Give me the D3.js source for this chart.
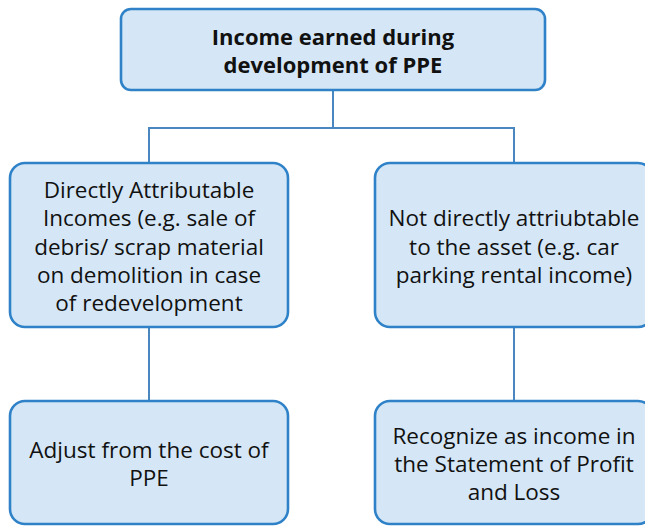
<!DOCTYPE html>
<html>
<head>
<meta charset="utf-8">
<script src="https://cdn.jsdelivr.net/npm/d3@7"></script>
<style>
  html, body { margin: 0; padding: 0; background: #fff; }
  svg { display: block; }
</style>
</head>
<body>
<div id="chart"></div>
<script>
// Nodes of the diagram
const nodeIds = ["root", "direct", "indirect", "adjust", "recognize"];
const nodeLines = [
  ["Income earned during", "development of PPE"],
  ["Directly Attributable", "Incomes (e.g. sale of", "debris/ scrap material", "on demolition in case", "of redevelopment"],
  ["Not directly attriubtable", "to the asset (e.g. car", "parking rental income)"],
  ["Adjust from the cost of", "PPE"],
  ["Recognize as income in", "the Statement of Profit", "and Loss"]
];
const nodeParents = [null, "root", "root", "direct", "indirect"];
const nodeLevels = [0, 1, 1, 2, 2];
const nodeColumns = ["center", "left", "right", "left", "right"];

const width = 645, height = 528;
const fill = "#d5e7f6", stroke = "#2f82c8", lineColor = "#4a87c0";

// layout scales
const colCenter = d3.scaleOrdinal().domain(["center", "left", "right"]).range([333, 149, 514]);
const colWidth = d3.scaleOrdinal().domain(["center", "left", "right"]).range([424, 278, 278]);
const rowTop = d3.scaleOrdinal().domain([0, 1, 2]).range([9, 163, 401]);
const rowHeight = d3.scaleOrdinal().domain([0, 1, 2]).range([81, 164, 123]);

const nodes = nodeIds.map((id, i) => {
  const cx = colCenter(nodeColumns[i]);
  const w = colWidth(nodeColumns[i]);
  return {
    id, lines: nodeLines[i], parent: nodeParents[i], level: nodeLevels[i],
    cx, x: cx - w / 2, w, y: rowTop(nodeLevels[i]), h: rowHeight(nodeLevels[i])
  };
});
const byId = new Map(nodes.map(d => [d.id, d]));

const svg = d3.select("#chart").append("svg")
  .attr("width", width)
  .attr("height", height);

// connectors (elbow from parent bottom to child top)
const links = nodes.filter(d => d.parent).map(d => ({ source: byId.get(d.parent), target: d }));
const elbow = d => {
  const s = d.source, t = d.target;
  const midY = s.level === 0 ? 128 : (s.y + s.h + t.y) / 2;
  const path = d3.path();
  path.moveTo(s.cx, s.y + s.h);
  path.lineTo(s.cx, midY);
  path.lineTo(t.cx, midY);
  path.lineTo(t.cx, t.y);
  return path.toString();
};
svg.append("g").selectAll("path")
  .data(links)
  .join("path")
  .attr("d", elbow)
  .attr("fill", "none")
  .attr("stroke", lineColor)
  .attr("stroke-width", 2);

// boxes
const box = svg.append("g").selectAll("g")
  .data(nodes)
  .join("g");

box.append("rect")
  .attr("x", d => d.x)
  .attr("y", d => d.y)
  .attr("width", d => d.w)
  .attr("height", d => d.h)
  .attr("rx", d => d.level === 0 ? 10 : 15)
  .attr("fill", fill)
  .attr("stroke", stroke)
  .attr("stroke-width", 2.6);

const lineH = 28.3;
box.append("text")
  .attr("text-anchor", "middle")
  .attr("font-family", "'Open Sans', 'Noto Sans', sans-serif")
  .attr("font-size", d => d.level === 0 ? 22 : 22.5)
  .attr("font-weight", d => d.level === 0 ? "bold" : "normal")
  .attr("fill", "#111")
  .selectAll("tspan")
  .data(d => d.lines.map((t, i) => ({ t, i, n: d.lines.length, d })))
  .join("tspan")
  .attr("x", l => l.d.cx)
  .attr("y", l => l.d.y + l.d.h / 2 + (l.i - (l.n - 1) / 2) * lineH + 9.5)
  .text(l => l.t);
</script>
</body>
</html>
